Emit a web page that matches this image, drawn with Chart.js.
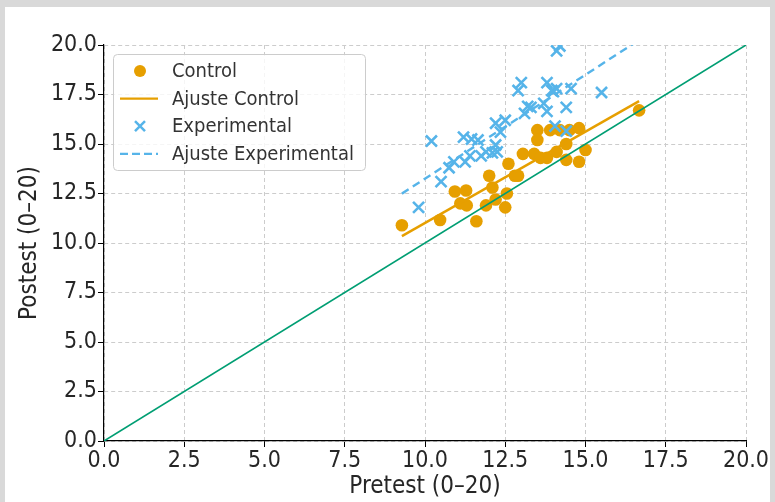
<!DOCTYPE html>
<html>
<head>
<meta charset="utf-8">
<script src="https://cdn.jsdelivr.net/npm/chart.js"></script>
<style>
  html, body { margin: 0; padding: 0; background: #d9d9d9; }
  #frame { position: absolute; left: 5px; top: 7px; width: 765px; height: 495px; background: #fff; }
  #c { display: block; }
</style>
</head>
<body>
<div id="frame"><canvas id="c" width="765" height="495"></canvas></div>
<script>
// pretest / postest, grupo control
const controlPre  = [9.28, 10.47, 10.93, 11.28, 11.1, 11.3, 11.6, 11.9, 12.0, 12.1, 12.2, 12.5, 12.55, 12.6, 12.8, 12.9,
                     13.05, 13.4, 13.5, 13.5, 13.6, 13.8, 13.9, 14.1, 14.2, 14.4, 14.4, 14.5, 14.8, 15.0, 14.8, 16.67];
const controlPost = [10.9, 11.16, 12.6, 12.65, 12.0, 11.9, 11.1, 11.9, 13.4, 12.8, 12.2, 11.8, 12.5, 14.0, 13.4, 13.4,
                     14.5, 14.5, 15.7, 15.2, 14.3, 14.3, 15.7, 14.6, 15.7, 15.0, 14.2, 15.7, 15.8, 14.7, 14.1, 16.7];
// grupo experimental
const expPre  = [9.8, 10.2, 10.5, 10.75, 10.9, 11.2, 11.25, 11.4, 11.45, 11.65, 11.75, 11.9, 12.1, 12.2, 12.25, 12.35,
                 12.2, 12.5, 13.0, 12.9, 13.2, 13.3, 13.1, 13.7, 13.8, 13.8, 13.95, 14.0, 14.1, 14.05, 14.1, 14.2,
                 14.4, 14.55, 15.5, 14.4];
const expPost = [11.8, 15.15, 13.1, 13.8, 14.1, 15.35, 14.1, 14.4, 15.25, 15.2, 14.4, 14.6, 14.55, 14.95, 14.6, 15.6,
                 16.05, 16.2, 18.1, 17.7, 16.9, 16.85, 16.55, 17.05, 18.1, 16.65, 17.7, 17.65, 17.8, 15.9, 19.7, 19.95,
                 16.85, 17.8, 17.6, 15.65];
// rectas de ajuste (pendiente, intercepto) y rango del pretest
const fitControl = [0.923, 1.78];
const fitExp = [1.05, 2.75];
const fitRange = [9.28, 16.67];
const axisTicks = [0, 2.5, 5, 7.5, 10, 12.5, 15, 17.5, 20];

const ORANGE = '#E69F00', BLUE = '#56B4E9', GREEN = '#009E73';
const FONT = "'DejaVu Sans Condensed', 'DejaVu Sans', sans-serif";

const pts = (xs, ys) => xs.map((x, i) => ({ x: x, y: ys[i] }));
const fitLine = (f) => fitRange.map(x => ({ x: x, y: f[0] * x + f[1] }));

// leyenda dibujada a mano (estilo matplotlib)
const legendBox = {
  id: 'legendBox',
  afterDraw(chart) {
    const ctx = chart.ctx;
    const x0 = 108, y0 = 47, w = 252, h = 116;
    ctx.save();
    ctx.fillStyle = 'rgba(255,255,255,0.8)';
    ctx.strokeStyle = '#cccccc';
    ctx.lineWidth = 1;
    ctx.beginPath();
    ctx.roundRect(x0 + 0.5, y0 + 0.5, w, h, 4);
    ctx.fill();
    ctx.stroke();
    const items = [
      { label: 'Control', kind: 'circle', color: ORANGE },
      { label: 'Ajuste Control', kind: 'line', color: ORANGE },
      { label: 'Experimental', kind: 'cross', color: BLUE },
      { label: 'Ajuste Experimental', kind: 'dash', color: BLUE }
    ];
    ctx.font = '20px ' + FONT;
    ctx.textBaseline = 'middle';
    items.forEach((it, i) => {
      const cy = y0 + 17 + i * 27.6;
      const cx = 135;
      ctx.strokeStyle = it.color;
      ctx.fillStyle = it.color;
      if (it.kind === 'circle') {
        ctx.beginPath(); ctx.arc(cx, cy, 6, 0, Math.PI * 2); ctx.fill();
      } else if (it.kind === 'cross') {
        ctx.lineWidth = 2.5;
        ctx.beginPath();
        ctx.moveTo(cx - 5, cy - 5); ctx.lineTo(cx + 5, cy + 5);
        ctx.moveTo(cx + 5, cy - 5); ctx.lineTo(cx - 5, cy + 5);
        ctx.stroke();
      } else {
        ctx.lineWidth = 2.2;
        ctx.setLineDash(it.kind === 'dash' ? [8, 4] : []);
        ctx.beginPath(); ctx.moveTo(115, cy); ctx.lineTo(153, cy); ctx.stroke();
        ctx.setLineDash([]);
      }
      ctx.fillStyle = '#333';
      ctx.fillText(it.label, 167, cy + 1);
    });
    ctx.restore();
  }
};

const axisCommon = {
  type: 'linear',
  min: 0, max: 20,
  afterBuildTicks: (s) => { s.ticks = axisTicks.map(v => ({ value: v })); },
  grid: { color: '#cccccc', lineWidth: 1, tickColor: '#000', tickLength: 6, tickWidth: 1 },
  border: { display: true, color: '#000', width: 1.2, dash: [4, 3] },
  ticks: {
    color: '#262626',
    font: { family: FONT, size: 23 },
    callback: (v) => Number(v).toFixed(1)
  }
};

new Chart(document.getElementById('c'), {
  type: 'scatter',
  data: {
    datasets: [
      { label: 'Ajuste Control', type: 'line', data: fitLine(fitControl), borderColor: ORANGE, borderWidth: 2.4,
        pointRadius: 0, order: 1 },
      { label: 'Ajuste Experimental', type: 'line', data: fitLine(fitExp), borderColor: BLUE, borderWidth: 2.4,
        borderDash: [8, 5], pointRadius: 0, order: 1 },
      { label: 'y = x', type: 'line', data: [{ x: 0, y: 0 }, { x: 20, y: 20 }], borderColor: GREEN, borderWidth: 1.6,
        pointRadius: 0, order: 0 },
      { label: 'Control', data: pts(controlPre, controlPost), backgroundColor: ORANGE, borderColor: ORANGE,
        pointRadius: 6.3, pointStyle: 'circle', borderWidth: 0, order: 3 },
      { label: 'Experimental', data: pts(expPre, expPost), borderColor: BLUE, backgroundColor: BLUE,
        pointRadius: 7.8, pointStyle: 'crossRot', borderWidth: 2.6, order: 2 }
    ]
  },
  options: {
    responsive: false,
    animation: false,
    layout: { padding: { left: 0, top: 38, right: 24, bottom: 0 } },
    plugins: { legend: { display: false }, tooltip: { enabled: false } },
    scales: {
      x: Object.assign({}, axisCommon, {
        position: 'bottom',
        afterFit: (s) => { s.height = 61; },
        ticks: Object.assign({}, axisCommon.ticks, { padding: 0, maxRotation: 0 }),
        title: { display: true, text: 'Pretest (0–20)', color: '#262626', font: { family: FONT, size: 24 },
                 padding: { top: 0, bottom: 1 } }
      }),
      y: Object.assign({}, axisCommon, {
        position: 'left',
        afterFit: (s) => { s.width = 99; },
        ticks: Object.assign({}, axisCommon.ticks, { padding: 1 }),
        title: { display: true, text: 'Postest (0–20)', color: '#262626', font: { family: FONT, size: 24 },
                 padding: { top: 10.6, bottom: 0 } }
      })
    }
  },
  plugins: [legendBox]
});
</script>
</body>
</html>
